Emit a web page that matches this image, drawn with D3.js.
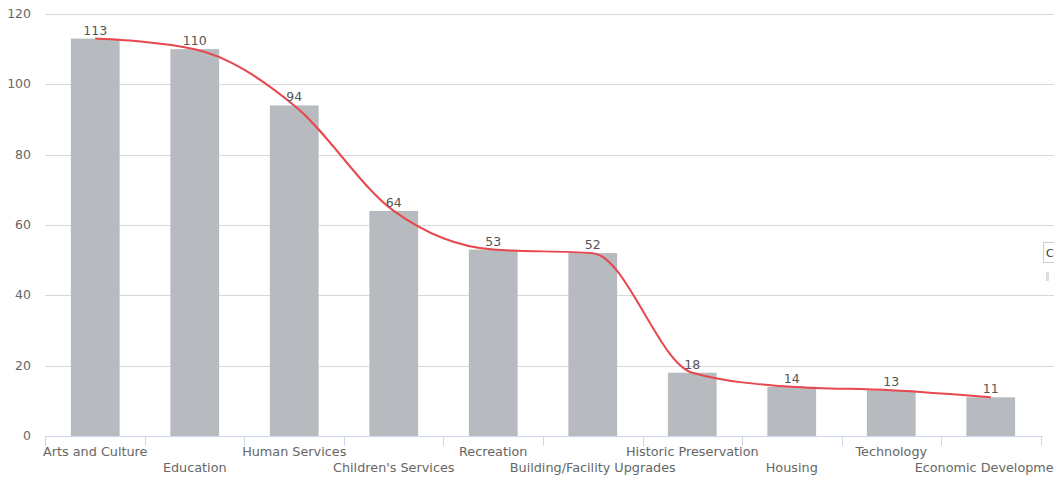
<!DOCTYPE html>
<html>
<head>
<meta charset="utf-8">
<script src="https://cdn.jsdelivr.net/npm/d3@7"></script>
<style>
  body { margin: 0; background: #fff; overflow: hidden; }
  svg { display: block; font-family: "DejaVu Sans", Verdana, sans-serif; }
</style>
</head>
<body>
<svg id="chart" width="1054" height="477"></svg>
<script>
// Данные графика
const categories = ['Arts and Culture', 'Education', 'Human Services', "Children's Services", 'Recreation',
    'Building/Facility Upgrades', 'Historic Preservation', 'Housing', 'Technology', 'Economic Development'];
const counts = [113, 110, 94, 64, 53, 52, 18, 14, 13, 11];
const yTicks = [0, 20, 40, 60, 80, 100, 120];

const svg = d3.select('#chart');
const plotLeft = 45, plotRight = 1041, plotTop = 14, plotBottom = 436;

const x = d3.scaleBand().domain(categories).range([plotLeft, plotRight]).paddingInner(0.51).paddingOuter(0.26);
const y = d3.scaleLinear().domain([0, 120]).range([plotBottom, plotTop]);

// Сетка
svg.append('g').selectAll('line').data(yTicks.filter(t => t > 0)).enter().append('line')
    .attr('x1', plotLeft).attr('x2', 1054)
    .attr('y1', d => Math.round(y(d)) + 0.5).attr('y2', d => Math.round(y(d)) + 0.5)
    .attr('stroke', '#d8d8d8').attr('stroke-width', 1);

// Подписи оси Y
svg.append('g').selectAll('text').data(yTicks).enter().append('text')
    .attr('x', 31).attr('y', d => y(d) + 4)
    .attr('text-anchor', 'end')
    .attr('fill', '#666').style('font-size', '12.5px')
    .text(d => d);

// Столбцы
svg.append('g').selectAll('rect').data(categories).enter().append('rect')
    .attr('x', d => x(d)).attr('width', x.bandwidth())
    .attr('y', (d, i) => y(counts[i])).attr('height', (d, i) => plotBottom - y(counts[i]))
    .attr('fill', '#b7babe');

// Ось X
const step = x.step();
const tickXs = categories.map(c => x(c) - (step - x.bandwidth()) / 2);
tickXs.push(plotRight);
svg.append('line').attr('x1', plotLeft).attr('x2', plotRight + 2)
    .attr('y1', plotBottom + 0.5).attr('y2', plotBottom + 0.5)
    .attr('stroke', '#ccd6eb');
svg.append('g').selectAll('line').data(tickXs).enter().append('line')
    .attr('x1', d => Math.round(d) + 0.5).attr('x2', d => Math.round(d) + 0.5)
    .attr('y1', plotBottom).attr('y2', plotBottom + 10)
    .attr('stroke', '#ccd6eb');

svg.append('g').selectAll('text').data(categories).enter().append('text')
    .attr('x', d => x(d) + x.bandwidth() / 2)
    .attr('y', (d, i) => i % 2 === 0 ? 456 : 472)
    .attr('text-anchor', 'middle')
    .attr('fill', '#666').style('font-size', '12.8px')
    .text(d => d);

// Линия
const line = d3.line()
    .x((d, i) => x(categories[i]) + x.bandwidth() / 2)
    .y(d => y(d))
    .curve(d3.curveMonotoneX);
svg.append('path').datum(counts)
    .attr('d', line)
    .attr('fill', 'none').attr('stroke', '#e8474e').attr('stroke-width', 2);

// Подписи значений
svg.append('g').selectAll('text').data(counts).enter().append('text')
    .attr('x', (d, i) => x(categories[i]) + x.bandwidth() / 2)
    .attr('y', d => y(d) - 4)
    .attr('text-anchor', 'middle')
    .attr('fill', '#555').style('font-size', '12.5px')
    .text(d => d);

// Обрезанная легенда справа
svg.append('rect').attr('x', 1043.5).attr('y', 242.5).attr('width', 20).attr('height', 20)
    .attr('fill', '#fff').attr('stroke', '#ccc');
svg.append('text').attr('x', 1046).attr('y', 257).attr('fill', '#333').style('font-size', '11px').text('C');
svg.append('rect').attr('x', 1046).attr('y', 272).attr('width', 3).attr('height', 9).attr('fill', '#ddd');
</script>
</body>
</html>
